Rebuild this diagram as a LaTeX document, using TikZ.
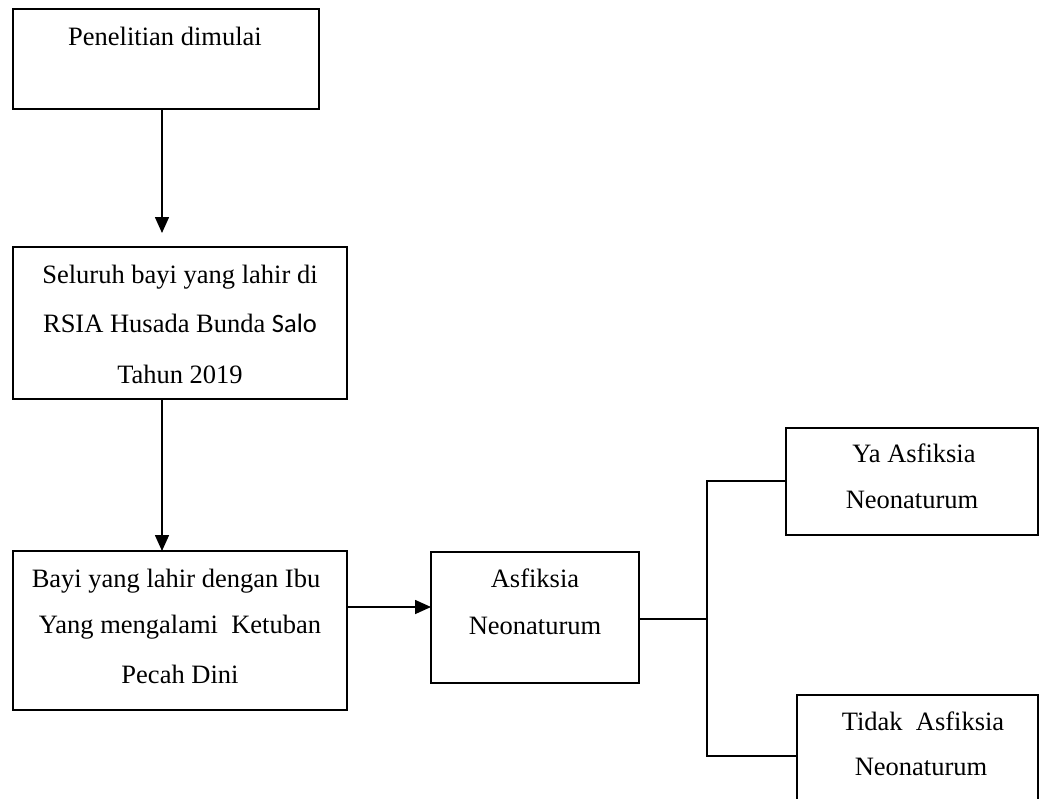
\documentclass[tikz,border=0pt]{standalone}
\usepackage{fontspec}
\setmainfont{Liberation Serif}
\newfontfamily\calfont{Carlito}
\usetikzlibrary{arrows.meta}
\begin{document}
\begin{tikzpicture}[x=1pt,y=-1pt,
  box/.style={draw=black, line width=1.6pt, inner sep=0pt, outer sep=0pt, rectangle},
  txt/.style={anchor=base, inner sep=0pt, font=\fontsize{26.5}{30}\selectfont},
  conn/.style={line width=1.6pt},
  arr/.style={line width=1.6pt, -{Triangle[length=16pt,width=14pt]}}]
\useasboundingbox (0,0) rectangle (1039,798);
\clip (0,0) rectangle (1039,798);
% boxes
\node[box, minimum width=306pt, minimum height=100pt] (b1) at (166,59) {};
\node[box, minimum width=334pt, minimum height=152pt] (b2) at (180,323) {};
\node[box, minimum width=334pt, minimum height=159pt] (b3) at (180,630.5) {};
\node[box, minimum width=208pt, minimum height=131pt] (b4) at (535,617.5) {};
\node[box, minimum width=252pt, minimum height=107pt] (b5) at (912,481.5) {};
\node[box, minimum width=241pt, minimum height=135pt] (b6) at (917.5,762.5) {};
% texts
\node[txt] (t1) at (165,45) {Penelitian dimulai};
\node[txt] (t2a) at (180,283) {Seluruh bayi yang lahir di};
\node[txt] (t2b) at (180,332) {RSIA Husada Bunda {\calfont Salo}};
\node[txt] (t2c) at (180,383) {Tahun 2019};
\node[txt] (t3a) at (176,587) {Bayi yang lahir dengan Ibu};
\node[txt] (t3b) at (180,633) {Yang mengalami\ \ Ketuban};
\node[txt] (t3c) at (180,683) {Pecah Dini};
\node[txt] (t4a) at (535,587) {Asfiksia};
\node[txt] (t4b) at (535,634) {Neonaturum};
\node[txt] (t5a) at (914,462) {Ya Asfiksia};
\node[txt] (t5b) at (912,508) {Neonaturum};
\node[txt] (t6a) at (923,730) {Tidak\ \ Asfiksia};
\node[txt] (t6b) at (921,775) {Neonaturum};
% connectors
\coordinate (ax) at (162,0);
\coordinate (a1end) at (162,233);
\coordinate (ay) at (0,607);
\coordinate (j) at (707,619);
\draw[arr] (b1.south -| ax) -- (a1end);
\draw[arr] (b2.south -| ax) -- (b3.north -| ax);
\draw[arr] (b3.east |- ay) -- (b4.west |- ay);
\draw[conn] (b4.east |- j) -- (j);
\draw[conn] (b5.west |- 0,481) -| (j) |- (b6.west |- 0,756);
\end{tikzpicture}
\end{document}
